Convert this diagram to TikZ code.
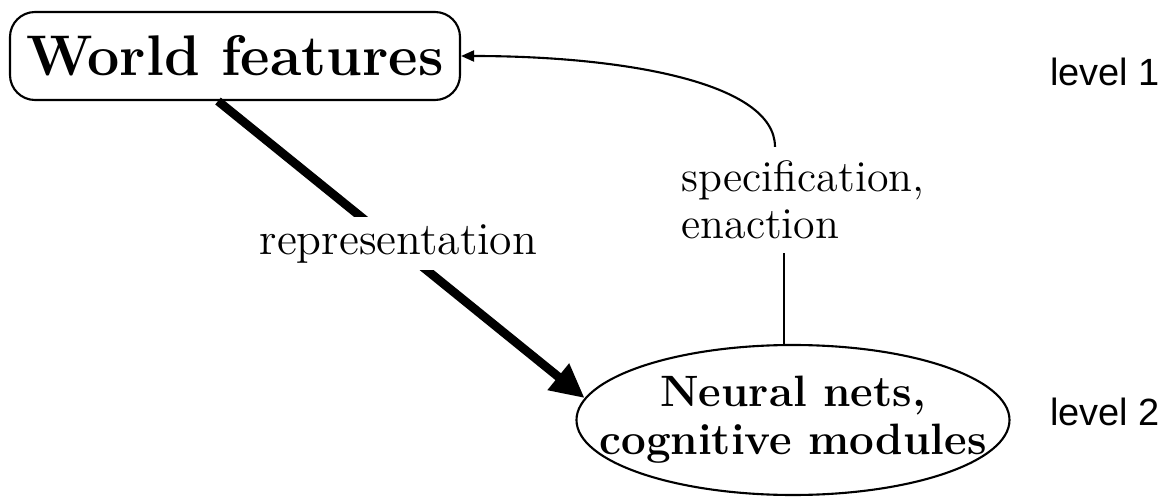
\documentclass[tikz,border=0pt]{standalone}
\usepackage{fontspec}
\newfontfamily\levelfont{Liberation Sans}
\usetikzlibrary{shapes.geometric,arrows.meta}

\begin{document}
\begin{tikzpicture}[
    box/.style={draw, line width=0.6pt, rounded corners=0.25cm,
        minimum width=4.5cm, minimum height=0.88cm,
        font=\fontsize{16.3}{19}\selectfont\bfseries},
    blob/.style={draw, ellipse, line width=0.6pt, inner sep=0pt,
        minimum width=4.33cm, minimum height=1.5cm},
    blobtext/.style={font=\fontsize{12.5}{13.7}\selectfont\bfseries, align=center},
    lab/.style={font=\fontsize{12.5}{13.5}\selectfont, align=left},
    lvl/.style={font=\levelfont\fontsize{10.8}{13}\selectfont},
    fat/.style={line width=2.5pt, -{Triangle[length=0.34cm,width=0.32cm]}},
    slim/.style={line width=0.6pt}
]
    % 画布大小
    \useasboundingbox (0,0) rectangle (11.71,4.96);
    % 两个层次的节点
    \node[box] (wf) at (2.35,4.40) {World features};
    \node[blob, label={[blobtext]center:Neural nets,\\cognitive modules}] (nn) at (7.93,0.76) {};
    % 右侧的层次标注
    \node[lvl] (lvl1) at (11.05,4.24) {level 1};
    \node[lvl] (lvl2) at (11.05,0.84) {level 2};
    % 粗箭头: 表示
    \draw[fat] ([xshift=-0.17cm]wf.south) --
        node[lab, fill=white, inner sep=2pt, pos=0.47, xshift=0.08cm, yshift=-0.03cm,
             font=\fontsize{13}{15}\selectfont] (rep) {representation} (nn.174);
    % 细线: 规定与实施
    \node[lab, inner sep=0.13cm] (spec) at (8.03,2.96) {specification,\\enaction};
    \draw[slim] ([xshift=-0.09cm]nn.north) -- ([xshift=-0.09cm]nn.north |- spec.south);
    \draw[slim, -{Triangle[length=0.13cm,width=0.11cm]}]
        ([xshift=-0.28cm]spec.north) .. controls +(0,0.65) and +(1.6,0) .. (wf.east);
\end{tikzpicture}
\end{document}
